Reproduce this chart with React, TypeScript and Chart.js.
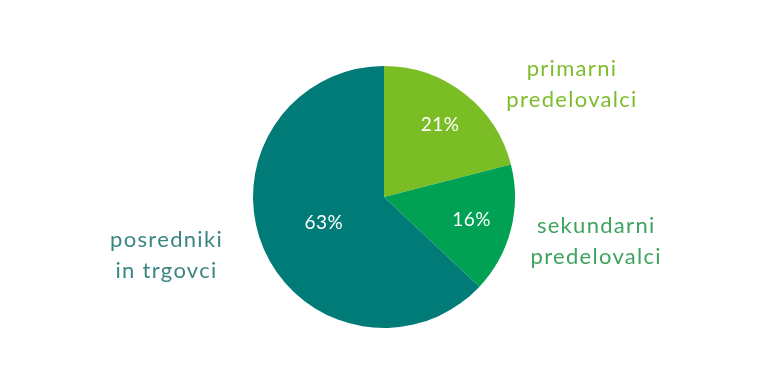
import React, { useEffect, useRef } from "react";
import { Chart, registerables } from "chart.js";

Chart.register(...registerables);

const categories = ["primarni predelovalci", "sekundarni predelovalci", "posredniki in trgovci"];
const labelLines = [["primarni", "predelovalci"], ["sekundarni", "predelovalci"], ["posredniki", "in trgovci"]];
const values = [21, 16, 63];
const sliceColors = ["#7abd25", "#00a153", "#007b77"];
const textColors = ["#7dbd2c", "#3ea35f", "#3a8683"];

const labelPlugin = {
  id: "pieLabels",
  afterDatasetsDraw(chart: any) {
    const ctx = chart.ctx;
    const meta = chart.getDatasetMeta(0);
    const inner = [0.7, 0.69, 0.5];
    const outside = [
      [1.435, -0.862],
      [1.62, 0.34],
      [-1.66, 0.443],
    ];
    ctx.save();
    meta.data.forEach((arc: any, i: number) => {
      const { x, y, startAngle, endAngle, outerRadius } = arc.getProps(["x", "y", "startAngle", "endAngle", "outerRadius"], true);
      const mid = (startAngle + endAngle) / 2;
      const r = outerRadius * inner[i];
      ctx.fillStyle = "#ffffff";
      ctx.font = "19px Lato";
      (ctx as any).letterSpacing = "0.5px";
      ctx.textAlign = "center";
      ctx.textBaseline = "middle";
      ctx.fillText(values[i] + "%", x + Math.cos(mid) * r, y + Math.sin(mid) * r);
      const ox = x + outside[i][0] * outerRadius;
      const oy = y + outside[i][1] * outerRadius;
      ctx.fillStyle = textColors[i];
      ctx.font = "22px Lato";
      (ctx as any).letterSpacing = "1.3px";
      const lines = labelLines[i];
      lines.forEach((ln, j) => {
        ctx.fillText(ln, ox, oy + (j - (lines.length - 1) / 2) * 31);
      });
    });
    ctx.restore();
  },
};

export default function App() {
  const ref = useRef<HTMLCanvasElement>(null);
  useEffect(() => {
    document.body.style.margin = "0";
    const chart = new Chart(ref.current!, {
      type: "pie",
      data: {
        labels: categories,
        datasets: [
          {
            data: values,
            backgroundColor: sliceColors,
            borderWidth: 0,
          },
        ],
      },
      options: {
        animation: false,
        responsive: false,
        layout: { padding: { top: 66, bottom: 56, left: 0, right: 0 } },
        plugins: { legend: { display: false }, tooltip: { enabled: false } },
      },
      plugins: [labelPlugin],
    });
    return () => chart.destroy();
  }, []);
  return (
    <div style={{ width: 768, height: 384 }}>
      <canvas ref={ref} width={768} height={384} style={{ display: "block" }} />
    </div>
  );
}
